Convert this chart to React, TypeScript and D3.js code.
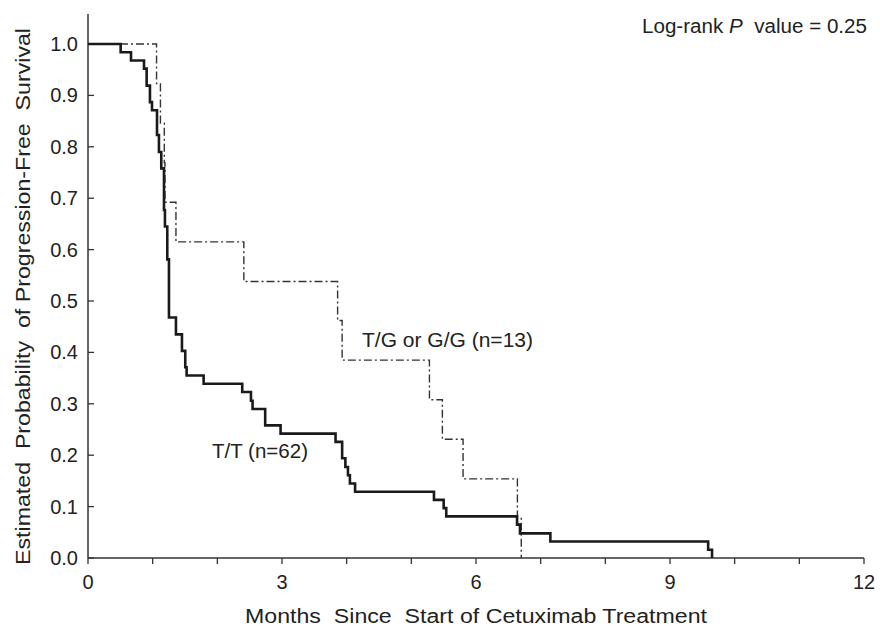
import React from "react";
import * as d3 from "d3";

const xTicks = [0, 1, 2, 3, 4, 5, 6, 7, 8, 9, 10, 11, 12];
const xLabels = [0, 3, 6, 9, 12];
const yTicks = [0, 0.1, 0.2, 0.3, 0.4, 0.5, 0.6, 0.7, 0.8, 0.9, 1.0];

// T/T (n=62) step curve
const ttTimes = [0, 0.505, 0.665, 0.866, 0.907, 0.958, 0.99, 1.067, 1.097, 1.133, 1.175, 1.19, 1.226, 1.252, 1.36, 1.453, 1.504, 1.525, 1.788, 2.385, 2.52, 2.545, 2.74, 2.978, 3.828, 3.93, 3.98, 4.02, 4.05, 4.13, 5.35, 5.5, 5.54, 6.635, 6.68, 7.15, 9.59, 9.65];
const ttSurv = [1, 0.984, 0.968, 0.952, 0.919, 0.887, 0.871, 0.823, 0.79, 0.758, 0.677, 0.645, 0.581, 0.468, 0.435, 0.403, 0.371, 0.355, 0.339, 0.323, 0.306, 0.29, 0.258, 0.242, 0.226, 0.194, 0.177, 0.161, 0.145, 0.129, 0.113, 0.097, 0.081, 0.065, 0.048, 0.032, 0.016, 0];

// T/G or G/G (n=13) step curve
const tgTimes = [0, 1.06, 1.12, 1.18, 1.19, 1.36, 2.41, 3.86, 3.93, 5.28, 5.48, 5.8, 6.64, 6.7];
const tgSurv = [1, 0.923, 0.846, 0.769, 0.692, 0.615, 0.538, 0.462, 0.385, 0.308, 0.231, 0.154, 0.077, 0];

const FONT = "'Liberation Sans', Arial, Helvetica, sans-serif";

export default function App() {
  const W = 880, H = 626;
  const x = d3.scaleLinear().domain([0, 12]).range([88, 864]);
  const y = d3.scaleLinear().domain([0, 1]).range([558, 44]);
  const line = d3
    .line<[number, number]>()
    .x((d) => x(d[0]))
    .y((d) => y(d[1]))
    .curve(d3.curveStepAfter);
  const tt: [number, number][] = ttTimes.map((t, i) => [t, ttSurv[i]]);
  const tg: [number, number][] = tgTimes.map((t, i) => [t, tgSurv[i]]);
  tt.push([ttTimes[ttTimes.length - 1], 0]);
  tg.push([tgTimes[tgTimes.length - 1], 0]);

  return (
    <svg width={W} height={H} style={{ position: "absolute", left: 0, top: 0, background: "#fff" }} fontFamily={FONT}>
      <rect x={0} y={0} width={W} height={H} fill="#fff" />
      <line x1={x(0)} x2={x(0)} y1={14} y2={y(0)} stroke="#333" strokeWidth={1.5} />
      <line x1={x(0)} x2={x(12)} y1={y(0)} y2={y(0)} stroke="#333" strokeWidth={1.5} />
      {yTicks.map((t) => (
        <g key={"y" + t}>
          <line x1={x(0)} x2={x(0) + 6} y1={y(t)} y2={y(t)} stroke="#333" strokeWidth={1.3} />
          <text x={78} y={y(t) + 7} textAnchor="end" fontSize={20} fill="#222">
            {t.toFixed(1)}
          </text>
        </g>
      ))}
      {xTicks.map((t) => (
        <line key={"x" + t} x1={x(t)} x2={x(t)} y1={y(0)} y2={y(0) + 6} stroke="#333" strokeWidth={1.3} />
      ))}
      {xLabels.map((t) => (
        <text key={"xl" + t} x={x(t)} y={589} textAnchor="middle" fontSize={20} fill="#222">
          {t}
        </text>
      ))}
      <text x={245} y={623} fontSize={20} fill="#222" textLength={462} lengthAdjust="spacingAndGlyphs" style={{ whiteSpace: "pre" }}>
        {"Months  Since  Start of Cetuximab Treatment"}
      </text>
      <text
        transform="translate(30,565) rotate(-90)"
        x={0}
        y={0}
        fontSize={20}
        fill="#222"
        textLength={537}
        lengthAdjust="spacingAndGlyphs"
        style={{ whiteSpace: "pre" }}
      >
        {"Estimated  Probability  of Progression-Free  Survival"}
      </text>
      <text x={642} y={32.7} fontSize={20} fill="#222" textLength={225} lengthAdjust="spacingAndGlyphs" style={{ whiteSpace: "pre" }}>
        {"Log-rank "}
        <tspan fontStyle="italic">P</tspan>
        {"  value = 0.25"}
      </text>
      <path d={line(tg) || ""} fill="none" stroke="#333" strokeWidth={1.4} strokeDasharray="8,3,2,3" />
      <path d={line(tt) || ""} fill="none" stroke="#1a1a1a" strokeWidth={2.6} />
      <text x={362} y={346.7} fontSize={20} fill="#222" textLength={171} lengthAdjust="spacingAndGlyphs">
        T/G or G/G (n=13)
      </text>
      <text x={212} y={458} fontSize={20} fill="#222" textLength={96} lengthAdjust="spacingAndGlyphs">
        T/T (n=62)
      </text>
    </svg>
  );
}
